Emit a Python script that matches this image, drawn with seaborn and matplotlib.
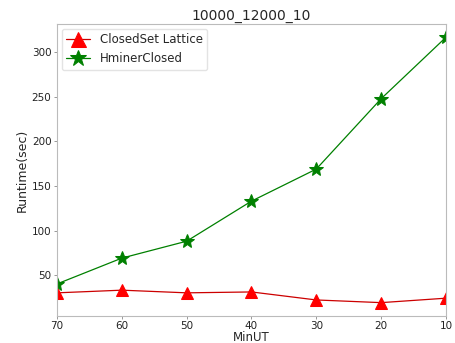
import matplotlib
matplotlib.use("Agg")
import matplotlib.pyplot as plt
import seaborn as sns
import pandas as pd

minut = [70, 60, 50, 40, 30, 20, 10]
closedset_lattice = [30, 33, 30, 31, 22, 19, 24]
hminer_closed = [40, 69, 88, 133, 169, 248, 317]
series_names = ["ClosedSet Lattice", "HminerClosed"]

sns.set_style("ticks", {"axes.edgecolor": "#bbbbbb", "xtick.color": "#888888",
                        "ytick.color": "#888888"})
plt.rcParams['font.family'] = ['DejaVu Sans']

fig, ax = plt.subplots(figsize=(4.56, 3.43), dpi=100)
fig.subplots_adjust(left=0.125, right=0.978, top=0.93, bottom=0.079)

df1 = pd.DataFrame({"MinUT": minut, "Runtime": closedset_lattice})
df2 = pd.DataFrame({"MinUT": minut, "Runtime": hminer_closed})
sns.lineplot(data=df1, x="MinUT", y="Runtime", ax=ax, color="#cc0000", lw=0.9,
             marker="^", markersize=9, markerfacecolor="red", markeredgecolor="red",
             label=series_names[0])
sns.lineplot(data=df2, x="MinUT", y="Runtime", ax=ax, color="green", lw=0.9,
             marker="*", markersize=10, markerfacecolor="green", markeredgecolor="green",
             label=series_names[1])

ax.set_xlim(70, 10)
ax.set_xticks(minut)
ax.set_yticks([50, 100, 150, 200, 250, 300])
ax.tick_params(labelsize=7.5, labelcolor="#222222", length=2.5, width=0.6, pad=1.5)
ax.set_xlabel("MinUT", fontsize=8.5, labelpad=0)
ax.set_ylabel("Runtime(sec)", fontsize=9, labelpad=2)
ax.set_title("10000_12000_10", fontsize=10, pad=3)
for s in ax.spines.values():
    s.set_visible(True)
    s.set_linewidth(0.8)
leg = ax.legend(loc="upper left", fontsize=8.5, frameon=True, handlelength=2,
                borderaxespad=0.4, markerscale=1.2)
leg.get_frame().set_edgecolor("#dddddd")

fig.savefig("out.png", dpi=100)
